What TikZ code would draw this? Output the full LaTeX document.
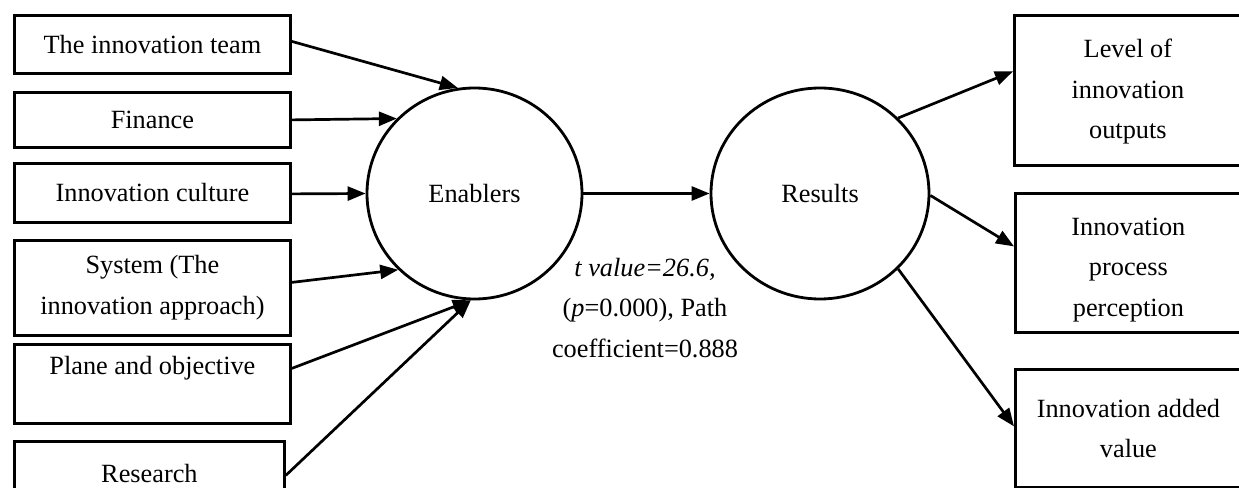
\documentclass[tikz,border=0pt]{standalone}
\usepackage{fontspec}
\setmainfont{Liberation Serif}
\usetikzlibrary{arrows.meta,shapes.geometric}
\begin{document}
\begin{tikzpicture}[x=1bp,y=-1bp,
  every node/.style={font=\fontsize{26.3bp}{40.5bp}\selectfont},
  boxnode/.style={draw,line width=2.8bp,rectangle,anchor=north west,inner sep=0pt,align=center},
  circnode/.style={draw,line width=2.8bp,ellipse,inner sep=0pt},
  conn/.style={line width=2.7bp,-{Triangle[length=18bp,width=14bp]}}
]
\useasboundingbox (0,0) rectangle (1239,488);
% left boxes
\node[boxnode,minimum width=276bp,minimum height=58bp] (b1) at (13,14) {The innovation team};
\node[boxnode,minimum width=276bp,minimum height=55bp] (b2) at (13,91) {Finance};
\node[boxnode,minimum width=276bp,minimum height=59bp] (b3) at (13,162) {Innovation culture};
\node[boxnode,minimum width=276bp,minimum height=95bp] (b4) at (13,239) {System (The\\innovation approach)};
\node[boxnode,minimum width=276bp,minimum height=79bp,text height=23bp,text depth=42bp,inner ysep=7bp] (b5) at (13,343) {Plane and objective};
\node[boxnode,minimum width=270bp,minimum height=64bp] (b6) at (13,440) {Research};
% circles
\node[circnode,minimum width=215bp,minimum height=211bp] (E) at (474.5,193.5) {Enablers};
\node[circnode,minimum width=218bp,minimum height=211bp] (R) at (820,193.5) {Results};
% right boxes
\node[boxnode,minimum width=227bp,minimum height=150bp] (r1) at (1013,14) {\rule{0pt}{21bp}Level of\\innovation\\outputs};
\node[boxnode,minimum width=226bp,minimum height=139bp] (r2) at (1014,192) {\rule{0pt}{31bp}Innovation\\process\\perception};
\node[boxnode,minimum width=226bp,minimum height=118bp] (r3) at (1014,368) {Innovation added\\value};
% label
\node[align=center] (lab) at (645,308) {\textit{t value=26.6,}\\(\textit{p}=0.000), Path\\coefficient=0.888};
% connectors
\draw[conn] ([yshift=3bp]b1.east) -- (E.99);
\draw[conn] (b2.east) -- (E.136);
\draw[conn] ([yshift=-1bp]b3.east) -- (E.180);
\draw[conn] ([yshift=5.5bp]b4.east) -- (E.225);
\draw[conn] ([yshift=15.5bp]b5.east) -- (E.268);
\draw[conn] ([yshift=-2bp]b6.east) -- (E.268);
\draw[conn] (E.east) -- (R.west);
\draw[conn] (R.44) -- ([yshift=19bp]r1.west);
\draw[conn] (R.-1) -- ([yshift=16.5bp]r2.west);
\draw[conn] (R.-44) -- ([yshift=2bp]r3.west);
\end{tikzpicture}
\end{document}
